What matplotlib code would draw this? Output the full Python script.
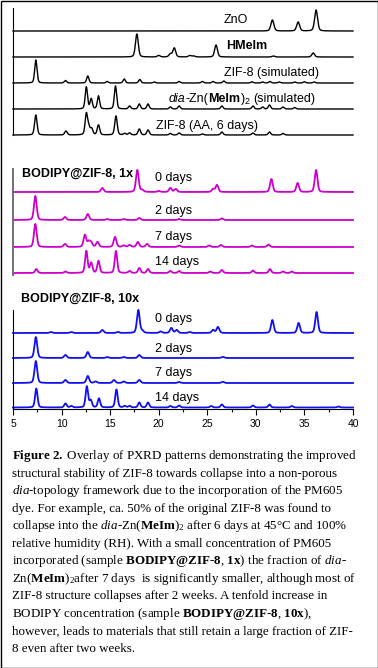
import numpy as np
import matplotlib
matplotlib.use("Agg")
import matplotlib.pyplot as plt
from matplotlib.patches import Rectangle

plt.rcParams["mathtext.fontset"] = "custom"
plt.rcParams["mathtext.rm"] = "Liberation Serif"
plt.rcParams["mathtext.bf"] = "Liberation Serif:bold"
plt.rcParams["mathtext.it"] = "Liberation Serif:italic"
plt.rcParams["mathtext.default"] = "rm"

# ---------------- data (peak positions in 2-theta, relative intensities) ----------------
two_theta = np.linspace(5, 40, 3501)

zno_pos = [31.7, 34.35, 36.2]
zno_int = [11, 9, 21]

hmeim_pos = [17.75, 20.0, 21.2, 21.6, 23.2, 23.6, 25.9, 31.8, 35.9]
hmeim_int = [23, 1.5, 3, 9, 1.5, 1, 12, 1, 4]

zif_sim_pos = [7.35, 10.4, 12.7, 14.7, 16.45, 18.05, 19.55, 22.1, 24.5, 25.6, 26.7, 29.6, 30.7, 31.45, 32.4, 34.0, 35.0, 36.0]
zif_sim_int = [23, 2.5, 7, 1.5, 4, 3.5, 1, 1.5, 1.5, 1.5, 2, 1.2, 1, 1.5, 1, 1, 1.2, 1]

dia_sim_pos = [12.55, 13.05, 13.8, 15.55, 17.0, 18.0, 18.9, 21.2, 22.1, 26.5, 29.7, 30.7, 31.4, 32.8, 34.0]
dia_sim_int = [22, 10, 13, 23, 3, 5, 5, 2, 3, 3, 3, 2, 4, 2, 1.5]

aa6_pos = [7.35, 10.45, 12.55, 12.8, 13.1, 13.8, 15.6, 16.5, 17.0, 18.0, 18.9, 21.2, 22.1, 24.5, 26.5, 29.7, 31.4, 32.8]
aa6_int = [20, 4, 21, 7, 6, 10, 19, 1.5, 2, 6, 5, 1.5, 2, 1, 3, 2, 3, 1.5]

# BODIPY@ZIF-8, 1x
b1_d0_pos = [14.2, 17.8, 18.3, 20.0, 21.2, 21.75, 25.6, 26.0, 31.6, 34.3, 36.2]
b1_d0_int = [4, 22, 2, 1, 4, 3, 3, 7, 13, 9, 22]
b1_d2_pos = [7.3, 10.35, 12.7, 14.7, 16.4, 18.0, 22.1, 26.5]
b1_d2_int = [24, 3, 6, 1, 1, 2, 1, 1.5]
b1_d7_pos = [7.3, 10.35, 12.4, 12.8, 13.05, 13.7, 15.5, 16.4, 17.0, 17.85, 18.8, 22.1, 25.2, 26.4, 29.6, 31.3]
b1_d7_int = [23, 3, 12, 5, 4, 5, 10, 1.5, 2, 5, 3, 1.5, 1.5, 2, 1.5, 2.5]
b1_d14_pos = [7.4, 10.4, 12.55, 13.05, 13.8, 15.6, 17.0, 18.0, 18.9, 21.2, 22.1, 25.3, 26.5, 29.7, 31.45, 32.8, 33.7]
b1_d14_int = [4, 1.5, 22, 10, 12, 22, 2, 5, 4, 2, 2, 1.5, 3, 2.5, 4, 1.5, 1.5]

# BODIPY@ZIF-8, 10x
b10_d0_pos = [8.9, 11.0, 14.2, 15.8, 17.9, 18.3, 20.2, 21.3, 21.85, 23.2, 25.6, 26.1, 31.7, 34.4, 36.25]
b10_d0_int = [1, 1, 3, 1, 23, 2, 1.5, 5, 3, 1, 3, 6, 13, 10, 21]
b10_d2_pos = [7.35, 10.4, 12.7, 14.7, 16.4, 18.0, 26.6]
b10_d2_int = [21, 3, 6, 1, 1, 3, 1.2]
b10_d7_pos = [7.35, 10.4, 12.7, 13.5, 15.4, 16.4, 18.0, 22.1, 26.6]
b10_d7_int = [22, 3, 7, 1.5, 3, 1.5, 3, 1, 1.2]
b10_d14_pos = [7.4, 10.4, 11.0, 12.6, 13.0, 13.85, 15.65, 16.5, 17.0, 18.0, 18.9, 21.2, 22.1, 25.4, 26.5, 29.7, 31.4, 33.7, 38.5]
b10_d14_int = [19, 4, 1.5, 21, 7, 9, 18, 1.5, 1.5, 5, 5, 1.5, 2, 1.5, 3, 2, 3, 1.5, 1]

x_ticks = [5, 10, 15, 20, 25, 30, 35, 40]

caption_lines = [
    r"$\mathbf{Figure}$ $\mathbf{2.}$ Overlay of PXRD patterns demonstrating the improved",
    "structural stability of ZIF-8 towards collapse into a non-porous",
    r"$\mathit{dia}$-topology framework due to the incorporation of the PM605",
    "dye. For example, ca. 50% of the original ZIF-8 was found to",
    r"collapse into the $\mathit{dia}$-Zn($\mathbf{MeIm}$)$_2$ after 6 days at 45°C and 100%",
    "relative humidity (RH). With a small concentration of PM605",
    r"incorporated (sample $\mathbf{BODIPY@ZIF}$-$\mathbf{8}$, $\mathbf{1x}$) the fraction of $\mathit{dia}$-",
    r"Zn($\mathbf{MeIm}$)$_2$after 7 days  is significantly smaller, although most of",
    "ZIF-8 structure collapses after 2 weeks. A tenfold increase in",
    r"BODIPY concentration (sample $\mathbf{BODIPY@ZIF}$-$\mathbf{8}$, $\mathbf{10x}$),",
    "however, leads to materials that still retain a large fraction of ZIF-",
    "8 even after two weeks.",
]

# ---------------- figure ----------------
W, H, DPI = 378, 668, 100
fig = plt.figure(figsize=(W / DPI, H / DPI), dpi=DPI)
fig.patch.set_facecolor("white")
renderer = fig.canvas.get_renderer()

SANS = ["Liberation Sans", "DejaVu Sans"]
SERIF = ["Liberation Serif", "DejaVu Serif"]
MAG = "#cc00cc"
BLU = "#1010f0"


def pattern(pos, inten, fwhm):
    y = np.zeros_like(two_theta)
    for c, h in zip(pos, inten):
        d = (two_theta - c) / fwhm
        y += h * (0.7 * np.exp(-4 * np.log(2) * d ** 2) + 0.3 / (1 + 4 * d ** 2))
    return y


def make_ax(top_px, bot_px, left_color="black", left_lw=0.8, bottom=False):
    ax = fig.add_axes([13 / W, 1 - bot_px / H, 340 / W, (bot_px - top_px) / H])
    ax.set_xlim(5, 40)
    ax.set_ylim(0, bot_px - top_px)
    ax.patch.set_visible(False)
    for s in ["top", "right"]:
        ax.spines[s].set_visible(False)
    ax.spines["left"].set_color(left_color)
    ax.spines["left"].set_linewidth(left_lw)
    ax.set_yticks([])
    if bottom:
        ax.spines["bottom"].set_linewidth(0.8)
        ax.set_xticks(x_ticks)
        ax.set_xticks(np.arange(7.5, 40, 5), minor=True)
        ax.tick_params(axis="x", which="major", direction="out", length=4, width=0.8,
                       labelsize=7.5, pad=3)
        ax.tick_params(axis="x", which="minor", direction="out", length=2.5, width=0.8)
        for lab in ax.get_xticklabels():
            lab.set_family(SANS)
    else:
        ax.spines["bottom"].set_visible(False)
        ax.set_xticks([])
    return ax


def trace(ax, bot_px, base_px, pos, inten, color, lw, fwhm=0.3):
    ax.plot(two_theta, (bot_px - base_px) + pattern(pos, inten, fwhm), color=color,
            lw=lw, clip_on=False, solid_joinstyle="round")


def tw(s, **kw):
    t = fig.text(0, 0, "|" + s + "|", **kw)
    a = t.get_window_extent(renderer).width
    t.remove()
    t = fig.text(0, 0, "||", **kw)
    b = t.get_window_extent(renderer).width
    t.remove()
    return a - b


def draw_segments(x_px, y_px, segs, family, size, color="black"):
    x = x_px
    for text, style in segs:
        kw = dict(family=family, fontsize=size, color=color)
        dy = 0.0
        if style == "b":
            kw["fontweight"] = "bold"
        elif style == "i":
            kw["fontstyle"] = "italic"
        elif style == "sub":
            kw["fontsize"] = size * 0.72
            dy = size * 0.22 * DPI / 72
        lead = len(text) - len(text.lstrip(" "))
        xd = x + (tw(" " * lead, **kw) if lead else 0)
        if text.strip():
            fig.text(xd / W, 1 - (y_px + dy) / H, text.strip(" "), ha="left", va="baseline", **kw)
        x += tw(text, **kw)
    return x


# ---- top panel ----
T_TOP, T_BOT = 8, 135
ax1 = make_ax(T_TOP, T_BOT)
trace(ax1, T_BOT, 31, zno_pos, zno_int, "black", 1.0, 0.36)
trace(ax1, T_BOT, 57, hmeim_pos, hmeim_int, "black", 1.0, 0.34)
trace(ax1, T_BOT, 83, zif_sim_pos, zif_sim_int, "black", 1.0, 0.28)
trace(ax1, T_BOT, 109, dia_sim_pos, dia_sim_int, "black", 1.0, 0.28)
trace(ax1, T_BOT, 135, aa6_pos, aa6_int, "black", 1.0, 0.3)

# ---- middle panel ----
M_TOP, M_BOT = 169, 275
ax2 = make_ax(M_TOP, M_BOT, left_color="#707070", left_lw=1.4)
trace(ax2, M_BOT, 192, b1_d0_pos, b1_d0_int, MAG, 1.3, 0.33)
trace(ax2, M_BOT, 220, b1_d2_pos, b1_d2_int, MAG, 1.3, 0.33)
trace(ax2, M_BOT, 247, b1_d7_pos, b1_d7_int, MAG, 1.3, 0.33)
trace(ax2, M_BOT, 273, b1_d14_pos, b1_d14_int, MAG, 1.3, 0.3)

# ---- bottom panel ----
B_TOP, B_BOT = 310, 409
ax3 = make_ax(B_TOP, B_BOT, bottom=True)
trace(ax3, B_BOT, 333, b10_d0_pos, b10_d0_int, BLU, 1.3, 0.33)
trace(ax3, B_BOT, 358, b10_d2_pos, b10_d2_int, BLU, 1.3, 0.33)
trace(ax3, B_BOT, 383, b10_d7_pos, b10_d7_int, BLU, 1.3, 0.33)
trace(ax3, B_BOT, 407.5, b10_d14_pos, b10_d14_int, BLU, 1.3, 0.3)

# ---- trace labels ----
FS = 9
draw_segments(224, 22.7, [("ZnO", "n")], SANS, FS)
draw_segments(226.5, 49.3, [("HMeIm", "b")], SANS, FS)
draw_segments(224, 76.3, [("ZIF-8 (simulated)", "n")], SANS, FS)
draw_segments(169, 101.7, [("dia", "i"), ("-Zn(", "n"), ("MeIm", "b"), (")", "n"), ("2", "sub"),
                           (" (simulated)", "n")], SANS, FS)
draw_segments(155.5, 128.7, [("ZIF-8 (AA, 6 days)", "n")], SANS, FS)

draw_segments(22.5, 177, [("BODIPY@ZIF-8, 1x", "b")], SANS, FS)
for lab, yb in zip(["0 days", "2 days", "7 days", "14 days"], [180.7, 213.7, 239.7, 264.7]):
    draw_segments(155, yb, [(lab, "n")], SANS, FS)

draw_segments(21, 301.5, [("BODIPY@ZIF-8, 10x", "b")], SANS, FS)
for lab, yb in zip(["0 days", "2 days", "7 days", "14 days"], [321.7, 351.7, 375.7, 401]):
    draw_segments(155, yb, [(lab, "n")], SANS, FS)

# ---- caption ----
for i, line in enumerate(caption_lines):
    fig.text(11.5 / W, 1 - (459 + i * 17.55) / H, line, ha="left", va="baseline",
             family=SERIF, fontsize=9.4, color="black")

# ---- outer frame ----
fig.patches.append(Rectangle((0.5 / W, 0.5 / H), 1 - 1.0 / W, 1 - 1.0 / H, transform=fig.transFigure,
                             fill=False, edgecolor="black", lw=1.0))

fig.savefig("out.png", dpi=DPI)
